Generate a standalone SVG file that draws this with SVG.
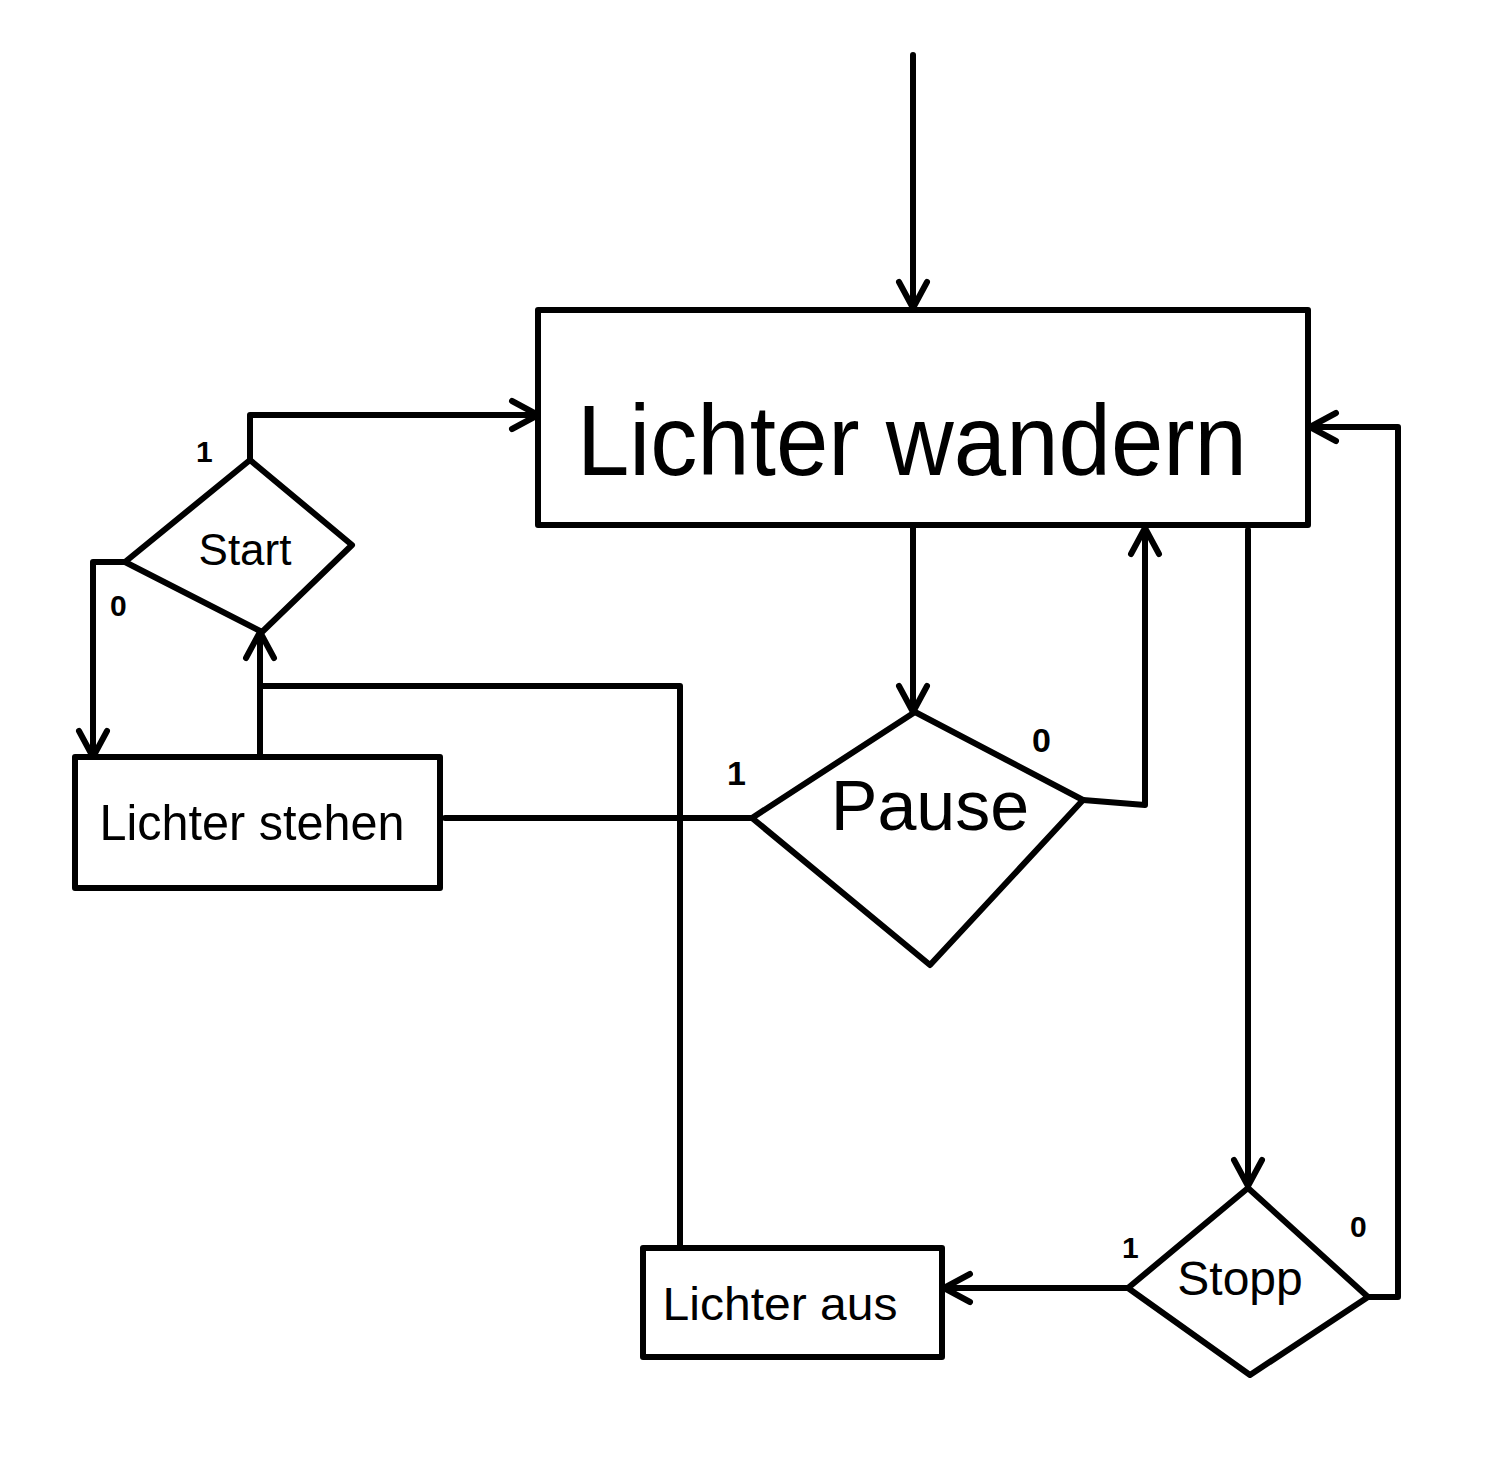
<svg xmlns="http://www.w3.org/2000/svg" width="1508" height="1466" viewBox="0 0 1508 1466">
<style>
.s{fill:none;stroke:#000;stroke-width:6;stroke-linejoin:round;stroke-linecap:round}
.t{font-family:"Liberation Sans",sans-serif;fill:#000}
</style>
<defs>
<marker id="b" markerWidth="36" markerHeight="36" refX="33" refY="18" orient="auto" markerUnits="userSpaceOnUse"><path d="M7,4 L33,18 L7,32" fill="none" stroke="#000" stroke-width="6" stroke-linecap="round" stroke-linejoin="round"/></marker></defs>
<rect width="1508" height="1466" fill="#fff"/>
<g id="connectors">
<path class="s" d="M913,55 V308" marker-end="url(#b)"/>
<path class="s" d="M250,460 V415 H538" marker-end="url(#b)"/>
<path class="s" d="M125,562 H93 V757" marker-end="url(#b)"/>
<path class="s" d="M260,755 V632" marker-end="url(#b)"/>
<path class="s" d="M262,686 H680 V1246"/>
<path class="s" d="M913,528 V712" marker-end="url(#b)"/>
<path class="s" d="M752,818 H445"/>
<path class="s" d="M1083,800 L1145,805 V528" marker-end="url(#b)"/>
<path class="s" d="M1248,530 V1186" marker-end="url(#b)"/>
<path class="s" d="M1368,1297 H1398 V427 H1310" marker-end="url(#b)"/>
<path class="s" d="M1128,1288 H944" marker-end="url(#b)"/>
</g>
<g id="wandern"><rect class="s" x="538" y="310" width="770" height="215"/><text class="t" x="912" y="475" font-size="100" text-anchor="middle" textLength="670" lengthAdjust="spacingAndGlyphs">Lichter wandern</text></g>
<g id="start"><polygon class="s" points="250,460 352,545 262,632 125,562"/><text class="t" x="245" y="565" font-size="44" text-anchor="middle">Start</text><text class="t" x="196" y="462" font-size="30" font-weight="bold">1</text><text class="t" x="110" y="616" font-size="30" font-weight="bold">0</text></g>
<g id="stehen"><rect class="s" x="75" y="757" width="365" height="131"/><text class="t" x="252" y="840" font-size="50" text-anchor="middle" textLength="305" lengthAdjust="spacingAndGlyphs">Lichter stehen</text></g>
<g id="pause"><polygon class="s" points="915,712 1083,800 930,965 752,818"/><text class="t" x="930" y="830" font-size="70" text-anchor="middle">Pause</text><text class="t" x="727" y="785" font-size="34" font-weight="bold">1</text><text class="t" x="1032" y="752" font-size="34" font-weight="bold">0</text></g>
<g id="stopp"><polygon class="s" points="1248,1188 1368,1297 1250,1375 1128,1288"/><text class="t" x="1240" y="1295" font-size="48" text-anchor="middle">Stopp</text><text class="t" x="1122" y="1258" font-size="30" font-weight="bold">1</text><text class="t" x="1350" y="1237" font-size="30" font-weight="bold">0</text></g>
<g id="aus"><rect class="s" x="643" y="1248" width="299" height="109"/><text class="t" x="780" y="1320" font-size="46" text-anchor="middle" textLength="235" lengthAdjust="spacingAndGlyphs">Lichter aus</text></g>
</svg>
